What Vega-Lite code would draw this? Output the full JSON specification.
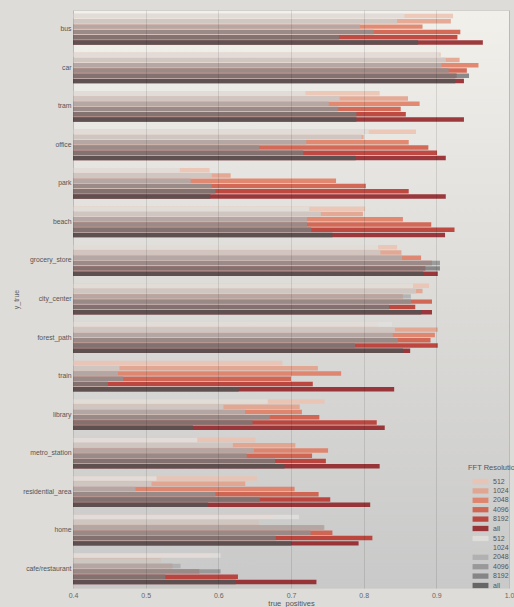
{
  "$schema": "https://vega.github.io/schema/vega-lite/v6.json",
  "width": 436,
  "height": 578,
  "padding": {"left": 12, "top": 10, "right": 0, "bottom": 0},
  "background": "#dddcd8",
  "config": {
    "font": "Liberation Sans",
    "view": {
      "fill": {"gradient": "linear", "x1": 0, "y1": 0, "x2": 0, "y2": 1, "stops": [{"offset": 0, "color": "#f2f0eb"}, {"offset": 0.5, "color": "#dcdbd8"}, {"offset": 1, "color": "#c9c9c9"}]},
      "stroke": "#d2d0cc"
    }
  },
  "datasets": {
    "d": [
      {"y_true":"bus","fft":"512","m":"A","tp":0.923},{"y_true":"bus","fft":"512","m":"B","tp":0.856},
      {"y_true":"bus","fft":"1024","m":"A","tp":0.920},{"y_true":"bus","fft":"1024","m":"B","tp":0.846},
      {"y_true":"bus","fft":"2048","m":"A","tp":0.881},{"y_true":"bus","fft":"2048","m":"B","tp":0.795},
      {"y_true":"bus","fft":"4096","m":"A","tp":0.933},{"y_true":"bus","fft":"4096","m":"B","tp":0.814},
      {"y_true":"bus","fft":"8192","m":"A","tp":0.929},{"y_true":"bus","fft":"8192","m":"B","tp":0.766},
      {"y_true":"bus","fft":"all","m":"A","tp":0.964},{"y_true":"bus","fft":"all","m":"B","tp":0.875},
      {"y_true":"car","fft":"512","m":"A","tp":0.906},{"y_true":"car","fft":"512","m":"B","tp":0.904},
      {"y_true":"car","fft":"1024","m":"A","tp":0.932},{"y_true":"car","fft":"1024","m":"B","tp":0.913},
      {"y_true":"car","fft":"2048","m":"A","tp":0.958},{"y_true":"car","fft":"2048","m":"B","tp":0.907},
      {"y_true":"car","fft":"4096","m":"A","tp":0.942},{"y_true":"car","fft":"4096","m":"B","tp":0.917},
      {"y_true":"car","fft":"8192","m":"A","tp":0.928},{"y_true":"car","fft":"8192","m":"B","tp":0.945},
      {"y_true":"car","fft":"all","m":"A","tp":0.938},{"y_true":"car","fft":"all","m":"B","tp":0.926},
      {"y_true":"tram","fft":"512","m":"A","tp":0.822},{"y_true":"tram","fft":"512","m":"B","tp":0.720},
      {"y_true":"tram","fft":"1024","m":"A","tp":0.861},{"y_true":"tram","fft":"1024","m":"B","tp":0.767},
      {"y_true":"tram","fft":"2048","m":"A","tp":0.877},{"y_true":"tram","fft":"2048","m":"B","tp":0.752},
      {"y_true":"tram","fft":"4096","m":"A","tp":0.851},{"y_true":"tram","fft":"4096","m":"B","tp":0.765},
      {"y_true":"tram","fft":"8192","m":"A","tp":0.858},{"y_true":"tram","fft":"8192","m":"B","tp":0.790},
      {"y_true":"tram","fft":"all","m":"A","tp":0.938},{"y_true":"tram","fft":"all","m":"B","tp":0.790},
      {"y_true":"office","fft":"512","m":"A","tp":0.872},{"y_true":"office","fft":"512","m":"B","tp":0.807},
      {"y_true":"office","fft":"1024","m":"A","tp":0.800},{"y_true":"office","fft":"1024","m":"B","tp":0.797},
      {"y_true":"office","fft":"2048","m":"A","tp":0.862},{"y_true":"office","fft":"2048","m":"B","tp":0.721},
      {"y_true":"office","fft":"4096","m":"A","tp":0.889},{"y_true":"office","fft":"4096","m":"B","tp":0.656},
      {"y_true":"office","fft":"8192","m":"A","tp":0.901},{"y_true":"office","fft":"8192","m":"B","tp":0.717},
      {"y_true":"office","fft":"all","m":"A","tp":0.913},{"y_true":"office","fft":"all","m":"B","tp":0.789},
      {"y_true":"park","fft":"512","m":"A","tp":0.588},{"y_true":"park","fft":"512","m":"B","tp":0.547},
      {"y_true":"park","fft":"1024","m":"A","tp":0.617},{"y_true":"park","fft":"1024","m":"B","tp":0.591},
      {"y_true":"park","fft":"2048","m":"A","tp":0.762},{"y_true":"park","fft":"2048","m":"B","tp":0.562},
      {"y_true":"park","fft":"4096","m":"A","tp":0.803},{"y_true":"park","fft":"4096","m":"B","tp":0.591},
      {"y_true":"park","fft":"8192","m":"A","tp":0.862},{"y_true":"park","fft":"8192","m":"B","tp":0.596},
      {"y_true":"park","fft":"all","m":"A","tp":0.913},{"y_true":"park","fft":"all","m":"B","tp":0.589},
      {"y_true":"beach","fft":"512","m":"A","tp":0.802},{"y_true":"beach","fft":"512","m":"B","tp":0.725},
      {"y_true":"beach","fft":"1024","m":"A","tp":0.799},{"y_true":"beach","fft":"1024","m":"B","tp":0.741},
      {"y_true":"beach","fft":"2048","m":"A","tp":0.854},{"y_true":"beach","fft":"2048","m":"B","tp":0.722},
      {"y_true":"beach","fft":"4096","m":"A","tp":0.893},{"y_true":"beach","fft":"4096","m":"B","tp":0.722},
      {"y_true":"beach","fft":"8192","m":"A","tp":0.925},{"y_true":"beach","fft":"8192","m":"B","tp":0.728},
      {"y_true":"beach","fft":"all","m":"A","tp":0.912},{"y_true":"beach","fft":"all","m":"B","tp":0.757},
      {"y_true":"grocery_store","fft":"512","m":"A","tp":0.846},{"y_true":"grocery_store","fft":"512","m":"B","tp":0.820},
      {"y_true":"grocery_store","fft":"1024","m":"A","tp":0.852},{"y_true":"grocery_store","fft":"1024","m":"B","tp":0.823},
      {"y_true":"grocery_store","fft":"2048","m":"A","tp":0.879},{"y_true":"grocery_store","fft":"2048","m":"B","tp":0.853},
      {"y_true":"grocery_store","fft":"4096","m":"A","tp":0.894},{"y_true":"grocery_store","fft":"4096","m":"B","tp":0.905},
      {"y_true":"grocery_store","fft":"8192","m":"A","tp":0.885},{"y_true":"grocery_store","fft":"8192","m":"B","tp":0.905},
      {"y_true":"grocery_store","fft":"all","m":"A","tp":0.902},{"y_true":"grocery_store","fft":"all","m":"B","tp":0.882},
      {"y_true":"city_center","fft":"512","m":"A","tp":0.890},{"y_true":"city_center","fft":"512","m":"B","tp":0.868},
      {"y_true":"city_center","fft":"1024","m":"A","tp":0.881},{"y_true":"city_center","fft":"1024","m":"B","tp":0.872},
      {"y_true":"city_center","fft":"2048","m":"A","tp":0.854},{"y_true":"city_center","fft":"2048","m":"B","tp":0.865},
      {"y_true":"city_center","fft":"4096","m":"A","tp":0.894},{"y_true":"city_center","fft":"4096","m":"B","tp":0.865},
      {"y_true":"city_center","fft":"8192","m":"A","tp":0.871},{"y_true":"city_center","fft":"8192","m":"B","tp":0.835},
      {"y_true":"city_center","fft":"all","m":"A","tp":0.894},{"y_true":"city_center","fft":"all","m":"B","tp":0.879},
      {"y_true":"forest_path","fft":"512","m":"A","tp":0.820},{"y_true":"forest_path","fft":"512","m":"B","tp":0.839},
      {"y_true":"forest_path","fft":"1024","m":"A","tp":0.902},{"y_true":"forest_path","fft":"1024","m":"B","tp":0.843},
      {"y_true":"forest_path","fft":"2048","m":"A","tp":0.898},{"y_true":"forest_path","fft":"2048","m":"B","tp":0.840},
      {"y_true":"forest_path","fft":"4096","m":"A","tp":0.892},{"y_true":"forest_path","fft":"4096","m":"B","tp":0.847},
      {"y_true":"forest_path","fft":"8192","m":"A","tp":0.902},{"y_true":"forest_path","fft":"8192","m":"B","tp":0.788},
      {"y_true":"forest_path","fft":"all","m":"A","tp":0.864},{"y_true":"forest_path","fft":"all","m":"B","tp":0.854},
      {"y_true":"train","fft":"512","m":"A","tp":0.688},{"y_true":"train","fft":"512","m":"B","tp":0.401},
      {"y_true":"train","fft":"1024","m":"A","tp":0.737},{"y_true":"train","fft":"1024","m":"B","tp":0.464},
      {"y_true":"train","fft":"2048","m":"A","tp":0.769},{"y_true":"train","fft":"2048","m":"B","tp":0.462},
      {"y_true":"train","fft":"4096","m":"A","tp":0.700},{"y_true":"train","fft":"4096","m":"B","tp":0.469},
      {"y_true":"train","fft":"8192","m":"A","tp":0.730},{"y_true":"train","fft":"8192","m":"B","tp":0.448},
      {"y_true":"train","fft":"all","m":"A","tp":0.842},{"y_true":"train","fft":"all","m":"B","tp":0.628},
      {"y_true":"library","fft":"512","m":"A","tp":0.746},{"y_true":"library","fft":"512","m":"B","tp":0.668},
      {"y_true":"library","fft":"1024","m":"A","tp":0.712},{"y_true":"library","fft":"1024","m":"B","tp":0.607},
      {"y_true":"library","fft":"2048","m":"A","tp":0.715},{"y_true":"library","fft":"2048","m":"B","tp":0.637},
      {"y_true":"library","fft":"4096","m":"A","tp":0.739},{"y_true":"library","fft":"4096","m":"B","tp":0.671},
      {"y_true":"library","fft":"8192","m":"A","tp":0.818},{"y_true":"library","fft":"8192","m":"B","tp":0.647},
      {"y_true":"library","fft":"all","m":"A","tp":0.829},{"y_true":"library","fft":"all","m":"B","tp":0.565},
      {"y_true":"metro_station","fft":"512","m":"A","tp":0.651},{"y_true":"metro_station","fft":"512","m":"B","tp":0.571},
      {"y_true":"metro_station","fft":"1024","m":"A","tp":0.706},{"y_true":"metro_station","fft":"1024","m":"B","tp":0.620},
      {"y_true":"metro_station","fft":"2048","m":"A","tp":0.751},{"y_true":"metro_station","fft":"2048","m":"B","tp":0.649},
      {"y_true":"metro_station","fft":"4096","m":"A","tp":0.729},{"y_true":"metro_station","fft":"4096","m":"B","tp":0.639},
      {"y_true":"metro_station","fft":"8192","m":"A","tp":0.748},{"y_true":"metro_station","fft":"8192","m":"B","tp":0.678},
      {"y_true":"metro_station","fft":"all","m":"A","tp":0.822},{"y_true":"metro_station","fft":"all","m":"B","tp":0.691},
      {"y_true":"residential_area","fft":"512","m":"A","tp":0.653},{"y_true":"residential_area","fft":"512","m":"B","tp":0.515},
      {"y_true":"residential_area","fft":"1024","m":"A","tp":0.637},{"y_true":"residential_area","fft":"1024","m":"B","tp":0.508},
      {"y_true":"residential_area","fft":"2048","m":"A","tp":0.705},{"y_true":"residential_area","fft":"2048","m":"B","tp":0.486},
      {"y_true":"residential_area","fft":"4096","m":"A","tp":0.738},{"y_true":"residential_area","fft":"4096","m":"B","tp":0.596},
      {"y_true":"residential_area","fft":"8192","m":"A","tp":0.754},{"y_true":"residential_area","fft":"8192","m":"B","tp":0.657},
      {"y_true":"residential_area","fft":"all","m":"A","tp":0.809},{"y_true":"residential_area","fft":"all","m":"B","tp":0.586},
      {"y_true":"home","fft":"512","m":"A","tp":0.676},{"y_true":"home","fft":"512","m":"B","tp":0.711},
      {"y_true":"home","fft":"1024","m":"A","tp":0.656},{"y_true":"home","fft":"1024","m":"B","tp":0.746},
      {"y_true":"home","fft":"2048","m":"A","tp":0.745},{"y_true":"home","fft":"2048","m":"B","tp":0.746},
      {"y_true":"home","fft":"4096","m":"A","tp":0.757},{"y_true":"home","fft":"4096","m":"B","tp":0.727},
      {"y_true":"home","fft":"8192","m":"A","tp":0.812},{"y_true":"home","fft":"8192","m":"B","tp":0.679},
      {"y_true":"home","fft":"all","m":"A","tp":0.793},{"y_true":"home","fft":"all","m":"B","tp":0.700},
      {"y_true":"cafe/restaurant","fft":"512","m":"A","tp":0.591},{"y_true":"cafe/restaurant","fft":"512","m":"B","tp":0.603},
      {"y_true":"cafe/restaurant","fft":"1024","m":"A","tp":0.521},{"y_true":"cafe/restaurant","fft":"1024","m":"B","tp":0.557},
      {"y_true":"cafe/restaurant","fft":"2048","m":"A","tp":0.537},{"y_true":"cafe/restaurant","fft":"2048","m":"B","tp":0.548},
      {"y_true":"cafe/restaurant","fft":"4096","m":"A","tp":0.574},{"y_true":"cafe/restaurant","fft":"4096","m":"B","tp":0.603},
      {"y_true":"cafe/restaurant","fft":"8192","m":"A","tp":0.627},{"y_true":"cafe/restaurant","fft":"8192","m":"B","tp":0.527},
      {"y_true":"cafe/restaurant","fft":"all","m":"A","tp":0.735},{"y_true":"cafe/restaurant","fft":"all","m":"B","tp":0.624}
    ]
  },
  "data": {"name": "d"},
  "encoding": {
    "y": {
      "field": "y_true", "type": "nominal",
      "sort": ["bus","car","tram","office","park","beach","grocery_store","city_center","forest_path","train","library","metro_station","residential_area","home","cafe/restaurant"],
      "scale": {"paddingInner": 0.2, "paddingOuter": 0.1},
      "axis": {"title": "y_true", "titleFontSize": 7, "titleFontWeight": "normal", "titleColor": "#666", "titlePadding": 3.6, "labelFontSize": 6.8, "labelColor": "#555", "labelPadding": 2, "ticks": false, "domain": false}
    },
    "yOffset": {
      "field": "fft", "type": "nominal",
      "sort": ["512","1024","2048","4096","8192","all"],
      "scale": {"paddingInner": 0.15}
    },
    "x": {
      "field": "tp", "type": "quantitative",
      "scale": {"domain": [0.4, 1.0], "zero": false, "nice": false},
      "axis": {"title": "true_positives", "values": [0.4,0.5,0.6,0.7,0.8,0.9,1.0], "format": ".1f", "labelFlush": false, "titleFontSize": 7.5, "titleFontWeight": "normal", "titleColor": "#555", "titlePadding": 1, "labelFontSize": 7, "labelColor": "#666", "labelPadding": 3, "ticks": false, "domain": false, "gridColor": "#000", "gridOpacity": 0.1, "zindex": 1}
    },
    "x2": {"datum": 0.4}
  },
  "layer": [
    {
      "transform": [{"filter": "datum.m === 'A'"}],
      "mark": {"type": "bar", "opacity": 0.85},
      "encoding": {
        "color": {
          "field": "fft", "type": "nominal",
          "scale": {"domain": ["512","1024","2048","4096","8192","all"], "range": ["#ebc2b0","#e39f87","#df785d","#cf533e","#b72e26","#8e1a1e"]},
          "legend": {"title": "FFT Resolution", "orient": "none", "legendX": 395, "legendY": 453.5, "symbolType": "M-3,-1H3V1H-3Z", "symbolSize": 28, "symbolOffset": 9, "labelOffset": 9, "labelFontSize": 7, "labelColor": "#555", "titleFontSize": 7.5, "titleFontWeight": "normal", "titleColor": "#555", "titlePadding": 7, "rowPadding": 1.4, "padding": 0}
        }
      }
    },
    {
      "transform": [{"filter": "datum.m === 'B'"}],
      "mark": {"type": "bar", "opacity": 0.85},
      "encoding": {
        "color": {
          "field": "fft", "type": "nominal",
          "scale": {"domain": ["512","1024","2048","4096","8192","all"], "range": ["#e1dfdd","#cbcbc9","#adadad","#919191","#797979","#555555"]},
          "legend": {"title": null, "orient": "none", "legendX": 395, "legendY": 525, "symbolType": "M-3,-1H3V1H-3Z", "symbolSize": 28, "symbolOffset": 9, "labelOffset": 9, "labelFontSize": 7, "labelColor": "#555", "rowPadding": 1.4, "padding": 0}
        }
      }
    }
  ],
  "resolve": {"scale": {"color": "independent"}}
}
